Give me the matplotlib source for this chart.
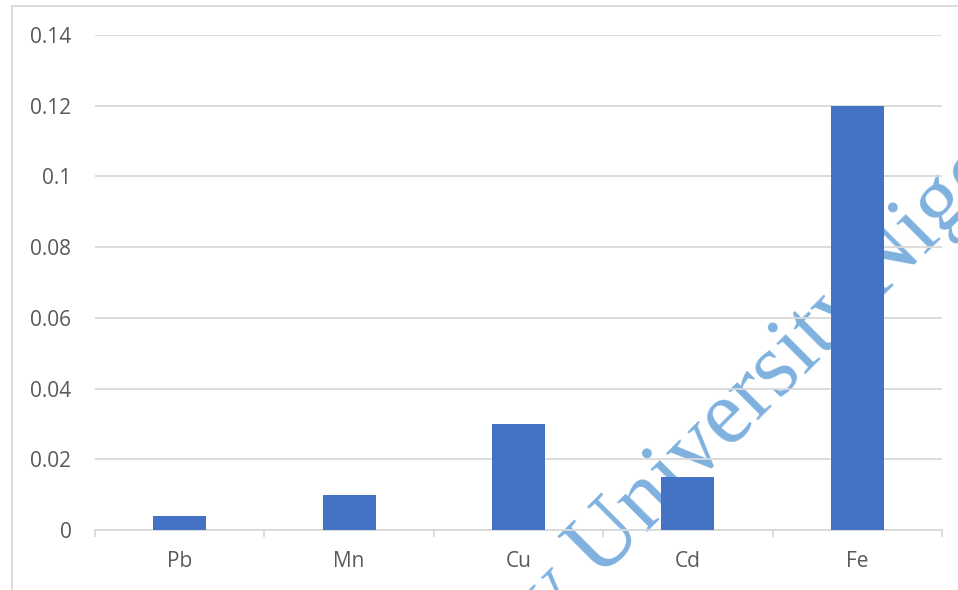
import matplotlib.pyplot as plt
from matplotlib.patches import Rectangle
from matplotlib.ticker import FixedLocator

# metal concentrations
metals = ['Pb', 'Mn', 'Cu', 'Cd', 'Fe']
conc = [0.004, 0.01, 0.03, 0.015, 0.12]
yticks = [0, 0.02, 0.04, 0.06, 0.08, 0.1, 0.12, 0.14]
ytick_labels = ['0', '0.02', '0.04', '0.06', '0.08', '0.1', '0.12', '0.14']

grid_col = '#d9d9d9'
text_col = '#595959'
bar_col = '#4472c4'
mark_col = '#7fb1df'

plt.rcParams['font.family'] = ['Open Sans', 'DejaVu Sans']

fig = plt.figure(figsize=(9.58, 5.9), dpi=100)
ax = fig.add_axes([95 / 958, 1 - 530 / 590, 847 / 958, 495 / 590])

x = list(range(len(metals)))
ax.bar(x, conc, width=0.313, color=bar_col, zorder=3)

ax.set_xlim(-0.5, len(metals) - 0.5)
ax.set_ylim(0, 0.14)
ax.set_yticks(yticks)
ax.set_yticklabels(ytick_labels)
ax.set_xticks(x)
ax.set_xticklabels(metals)
ax.xaxis.set_minor_locator(FixedLocator([i - 0.5 for i in range(len(metals) + 1)]))

ax.grid(axis='y', color=grid_col, linewidth=1.3, zorder=0)
ax.set_axisbelow(True)
for side in ['top', 'right', 'left']:
    ax.spines[side].set_visible(False)
ax.spines['bottom'].set_color(grid_col)
ax.spines['bottom'].set_linewidth(1.3)

ax.tick_params(axis='y', length=0, pad=17, labelsize=15, labelcolor=text_col)
ax.tick_params(axis='x', which='major', length=0, pad=15, labelsize=15, labelcolor=text_col)
ax.tick_params(axis='x', which='minor', length=5, width=1.3, color=grid_col)

# outer chart frame
fig.patches.append(Rectangle((12 / 958, -0.1), 1.2, 1 - 6 / 590 + 0.1, transform=fig.transFigure,
                             fill=False, edgecolor=grid_col, linewidth=1.3, zorder=0))

# diagonal watermark, drawn under the axes so the bars cover it
serif = ['Liberation Serif', 'DejaVu Serif']
fig.text(550.6 / 958, 1 - 628.4 / 590, 'y University', rotation=45, rotation_mode='anchor',
         ha='left', va='baseline', fontsize=66, color=mark_col, family=serif, zorder=1)
fig.text(877.2 / 958, 1 - 299.9 / 590, 'Nigeria', rotation=45, rotation_mode='anchor',
         ha='left', va='baseline', fontsize=66, color=mark_col, family=serif, zorder=1)

ax.set_zorder(3)
ax.patch.set_visible(False)

fig.savefig('out.png', dpi=100)
